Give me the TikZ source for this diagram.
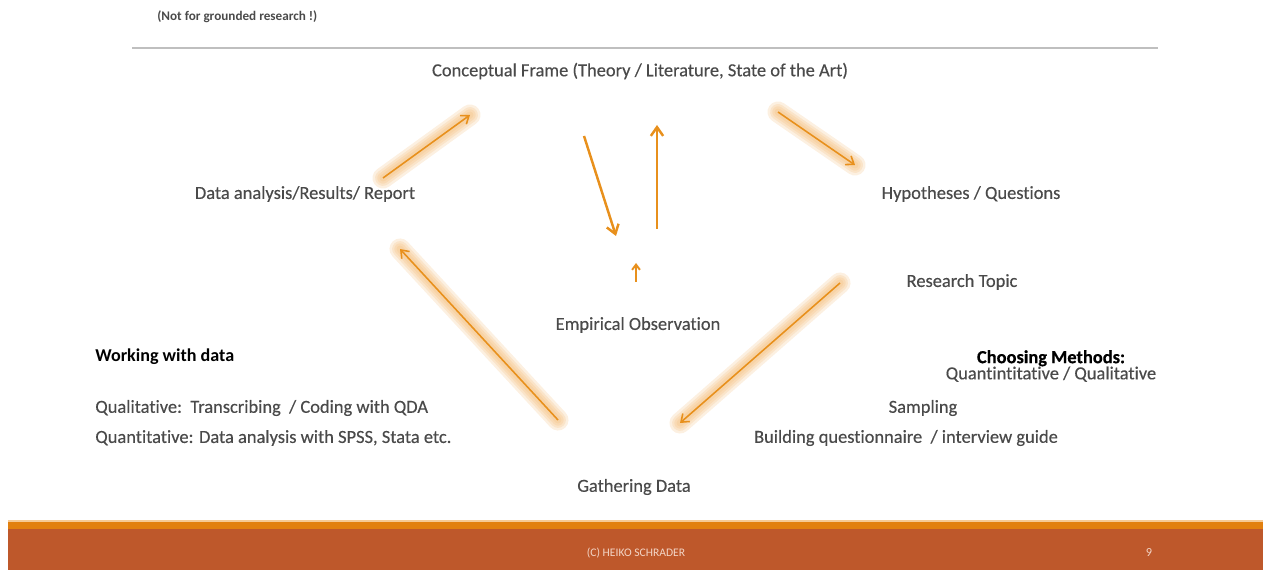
\documentclass[tikz,border=0pt]{standalone}
\usepackage{fontspec}
\setmainfont{Carlito}[Ligatures=NoCommon]
\usetikzlibrary{arrows.meta}

\definecolor{arrorange}{HTML}{E8901C}
\definecolor{gloworange}{HTML}{F2B468}
\definecolor{txtgray}{HTML}{4A4A4A}
\definecolor{rulegray}{HTML}{BFBFBF}
\definecolor{barorange}{HTML}{E2800F}
\definecolor{barrust}{HTML}{BE582B}
\definecolor{foottext}{HTML}{F3D5C6}

\tikzset{
  lbl/.style={text=txtgray, font=\fontsize{10.5}{11}\selectfont\addfontfeature{FakeBold=0.35}, inner sep=0pt},
  hdr/.style={text=black, font=\fontsize{10.3}{11}\selectfont\bfseries, inner sep=0pt},
  plainarrow/.style={draw=arrorange, line width=1.4pt, -{Straight Barb[length=5pt,width=7pt]}},
  glow/.style={draw=gloworange, line cap=round, line width=#1, opacity=0.2},
  coreline/.style={draw=arrorange, line width=0.9pt, -{Straight Barb[length=4pt,width=6pt]}}
}
% soft halo under a thin arrow
\newcommand{\glowarrow}[2]{%
  \foreach \w in {12pt,9pt,6.5pt,4pt} \draw[glow=\w] (#1) -- (#2);
  \draw[coreline] (#1) -- (#2);
}

\begin{document}
\begin{tikzpicture}[x=0.02cm,y=-0.02cm]
\useasboundingbox (0,0) rectangle (1263,570);

% header
\node[anchor=west, text=txtgray, font=\fontsize{7.5}{8}\selectfont\bfseries, inner sep=0pt] (note) at (157,17) {(Not for grounded research !)};
\draw[rulegray, line width=0.6pt] (132,48) -- (1158,48);

% cycle labels
\node[lbl] (frame) at (640,71) {Conceptual Frame (Theory / Literature, State of the Art)};
\node[lbl] (report) at (305,194) {Data analysis/Results/ Report};
\node[lbl] (hyp) at (971,194) {Hypotheses / Questions};
\node[lbl] (topic) at (962,282) {Research Topic};
\node[lbl] (empobs) at (638,325) {Empirical Observation};
\node[lbl] (gathering) at (634,487) {Gathering Data};

% side notes
\node[hdr, anchor=west] (working) at (95,357) {Working with data};
\node[lbl, anchor=west] (qual) at (95,408) {Qualitative:\ \ Transcribing\ \ / Coding with QDA};
\node[lbl, anchor=west] (quant) at (95,438) {Quantitative: Data analysis with SPSS, Stata etc.};
\node[lbl, align=center, font=\fontsize{10.5}{9.2}\selectfont\addfontfeature{FakeBold=0.35}] (methods) at (1051,366) {\textcolor{black}{\bfseries Choosing Methods:}\\Quantintitative / Qualitative};
\node[lbl] (sampling) at (923,408) {Sampling};
\node[lbl] (building) at (906,438) {Building questionnaire\ \ / interview guide};

% arrow ends
\coordinate (r0) at (383,178);  \coordinate (r1) at (470,115);
\coordinate (h0) at (778,112);  \coordinate (h1) at (855,165);
\coordinate (t0) at (840,283);  \coordinate (t1) at (680,423);
\coordinate (g0) at (558,420);  \coordinate (g1) at (400,249);
\coordinate (d0) at (584,136);  \coordinate (d1) at (616,236);
\coordinate (u0) at (657,229);  \coordinate (u1) at (657,125);
\coordinate (s0) at (636,282);  \coordinate (s1) at (636,263);

\glowarrow{r0}{r1}
\glowarrow{h0}{h1}
\glowarrow{t0}{t1}
\glowarrow{g0}{g1}
\draw[plainarrow] (d0) -- (d1);
\draw[plainarrow] (u0) -- (u1);
\draw[draw=arrorange, line width=1.1pt, -{Straight Barb[length=3pt,width=4.5pt]}] (s0) -- (s1);

% footer
\fill[gloworange!70!white] (8,519.5) rectangle (1263,521.5);
\fill[barorange] (8,521.5) rectangle (1263,528.5);
\fill[barrust] (8,528.5) rectangle (1263,570);
\node[text=foottext, font=\fontsize{6.6}{7}\selectfont, inner sep=0pt] (credit) at (636,553) {(C) HEIKO SCHRADER};
\node[text=foottext, font=\fontsize{7}{8}\selectfont, inner sep=0pt] (page) at (1149,553) {9};
\end{tikzpicture}
\end{document}
